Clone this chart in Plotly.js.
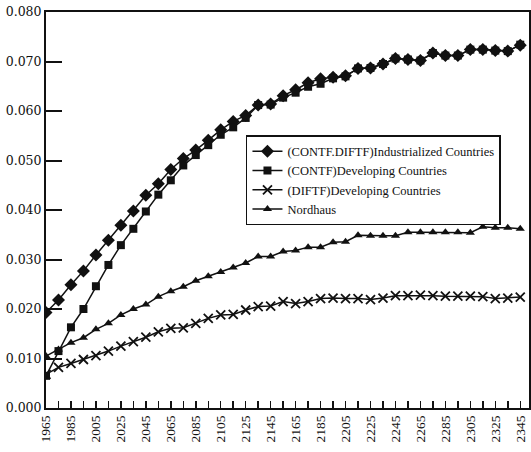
<!DOCTYPE html>
<html>
<head>
<meta charset="utf-8">
<script src="https://cdn.plot.ly/plotly-3.0.1.min.js"></script>
<style>html,body{margin:0;padding:0;background:#fff;}#chart{width:531px;height:452px;}</style>
</head>
<body>
<div id="chart"></div>
<script>
const years = [1965,1975,1985,1995,2005,2015,2025,2035,2045,2055,2065,2075,2085,2095,2105,2115,2125,2135,2145,2155,2165,2175,2185,2195,2205,2215,2225,2235,2245,2255,2265,2275,2285,2295,2305,2315,2325,2335,2345];

const industrialized = [0.0193,0.0218,0.0249,0.0277,0.0309,0.0339,0.0369,0.0398,0.0430,0.0453,0.0482,0.0504,0.0521,0.0541,0.0562,0.0579,0.0591,0.0612,0.0614,0.0631,0.0643,0.0657,0.0665,0.0668,0.0671,0.0686,0.0687,0.0695,0.0706,0.0704,0.0702,0.0717,0.0712,0.0712,0.0724,0.0724,0.0722,0.0721,0.0733];

const contfDeveloping = [0.0065,0.0115,0.0163,0.0200,0.0246,0.0289,0.0329,0.0362,0.0397,0.0431,0.0460,0.0490,0.0511,0.0531,0.0552,0.0567,0.0586,0.0612,0.0613,0.0627,0.0637,0.0649,0.0655,0.0666,0.0670,0.0686,0.0687,0.0695,0.0706,0.0704,0.0702,0.0717,0.0712,0.0712,0.0724,0.0724,0.0722,0.0721,0.0734];

const diftfDeveloping = [0.0068,0.0082,0.0090,0.0098,0.0106,0.0115,0.0125,0.0134,0.0143,0.0154,0.0161,0.0162,0.0171,0.0181,0.0188,0.0189,0.0198,0.0205,0.0206,0.0215,0.0211,0.0215,0.0221,0.0222,0.0221,0.0221,0.0219,0.0222,0.0227,0.0227,0.0228,0.0227,0.0226,0.0226,0.0226,0.0225,0.0221,0.0222,0.0224];

const nordhaus = [0.0105,0.0118,0.0132,0.0142,0.0159,0.0171,0.0188,0.0200,0.0209,0.0225,0.0236,0.0245,0.0257,0.0266,0.0275,0.0284,0.0293,0.0306,0.0306,0.0316,0.0318,0.0325,0.0325,0.0335,0.0336,0.0349,0.0348,0.0348,0.0348,0.0355,0.0355,0.0355,0.0355,0.0355,0.0354,0.0366,0.0364,0.0364,0.0362];

const seriesNames = ["(CONTF.DIFTF)Industrialized Countries","(CONTF)Developing Countries","(DIFTF)Developing Countries","Nordhaus"];

const ink = "#111";
const serifA = "Liberation Serif";
const serifB = "DejaVu Serif";

const traces = [
  {x: years, y: industrialized, name: seriesNames[0], mode: "lines+markers",
   line: {color: ink, width: 1.5}, marker: {symbol: "diamond", size: 10, color: ink}},
  {x: years, y: contfDeveloping, name: seriesNames[1], mode: "lines+markers",
   line: {color: ink, width: 1.5}, marker: {symbol: "square", size: 8, color: ink}},
  {x: years, y: diftfDeveloping, name: seriesNames[2], mode: "lines+markers",
   line: {color: ink, width: 1.5}, marker: {symbol: "x-thin-open", size: 9, color: ink, line: {color: ink, width: 1.8}}},
  {x: years, y: nordhaus, name: seriesNames[3], mode: "lines+markers",
   line: {color: ink, width: 1.5}, marker: {symbol: "triangle-up", size: 8, color: ink}}
];

const layout = {
  width: 531, height: 452,
  margin: {l: 46, r: 2, t: 12, b: 44},
  paper_bgcolor: "#fff", plot_bgcolor: "#fff",
  font: {family: serifA, color: ink, size: 13},
  showlegend: true,
  legend: {
    x: 0.414, y: 0.689, xanchor: "left", yanchor: "top",
    bgcolor: "#fff", bordercolor: ink, borderwidth: 1.5,
    font: {family: serifA, size: 12.5, color: ink},
    tracegroupgap: 0, itemwidth: 30
  },
  xaxis: {
    range: [1965, 2352],
    tickmode: "linear", tick0: 1965, dtick: 20,
    ticks: "inside", ticklen: 7, tickwidth: 1.5, tickcolor: ink,
    minor: {tickmode: "linear", tick0: 1965, dtick: 10, ticks: "inside", ticklen: 7, tickwidth: 1.5, tickcolor: ink},
    tickangle: -90,
    tickfont: {family: serifA, size: 13.5, color: ink},
    showgrid: false, zeroline: false,
    showline: true, linecolor: ink, linewidth: 2, mirror: true
  },
  yaxis: {
    range: [0, 0.08],
    tickmode: "linear", tick0: 0, dtick: 0.01,
    tickformat: ".3f",
    ticks: "inside", ticklen: 16, tickwidth: 2, tickcolor: ink,
    tickfont: {family: serifB, size: 12.5, color: ink},
    showgrid: false, zeroline: false,
    showline: true, linecolor: ink, linewidth: 2, mirror: true
  }
};

Plotly.newPlot("chart", traces, layout, {displayModeBar: false, staticPlot: true});
</script>
</body>
</html>
